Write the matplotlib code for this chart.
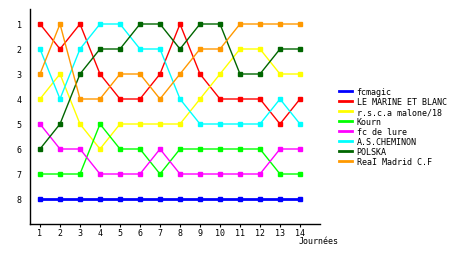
import matplotlib
matplotlib.use('Agg')
import matplotlib.pyplot as plt

journees = list(range(1, 15))

teams = ['fcmagic', 'LE MARINE ET BLANC', 'r.s.c.a malone/18', 'Kourn',
         'fc de lure', 'A.S.CHEMINON', 'POLSKA', 'ReaI Madrid C.F']
colors = ['#0000ff', '#ff0000', '#ffff00', '#00ff00',
          '#ff00ff', '#00ffff', '#006600', '#ff9900']

fcmagic = [8, 8, 8, 8, 8, 8, 8, 8, 8, 8, 8, 8, 8, 8]
marine = [1, 2, 1, 3, 4, 4, 3, 1, 3, 4, 4, 4, 5, 4]
malone = [4, 3, 5, 6, 5, 5, 5, 5, 4, 3, 2, 2, 3, 3]
kourn = [7, 7, 7, 5, 6, 6, 7, 6, 6, 6, 6, 6, 7, 7]
lure = [5, 6, 6, 7, 7, 7, 6, 7, 7, 7, 7, 7, 6, 6]
cheminon = [2, 4, 2, 1, 1, 2, 2, 4, 5, 5, 5, 5, 4, 5]
polska = [6, 5, 3, 2, 2, 1, 1, 2, 1, 1, 3, 3, 2, 2]
madrid = [3, 1, 4, 4, 3, 3, 4, 3, 2, 2, 1, 1, 1, 1]

series = [fcmagic, marine, malone, kourn, lure, cheminon, polska, madrid]

fig = plt.figure(figsize=(4.6, 2.55), dpi=100)
ax = fig.add_axes([30 / 460, 30 / 255, 290 / 460, 215 / 255])

for name, vals, col in zip(teams, series, colors):
    lw = 2 if name == 'fcmagic' else 1
    ax.plot(journees, vals, color=col, lw=lw, marker='s', ms=2.5,
            mec=col, mfc=col, label=name)

ax.set_xlim(0.5, 15)
ax.set_ylim(9, 0.4)
ax.set_xticks(journees)
ax.set_yticks(range(1, 9))
ax.tick_params(axis='x', length=2, labelsize=6, pad=1)
ax.tick_params(axis='y', length=0, labelsize=6, pad=6)
for lab in ax.get_xticklabels() + ax.get_yticklabels():
    lab.set_family('DejaVu Sans Mono')
for s in ['top', 'right']:
    ax.spines[s].set_visible(False)
for s in ['left', 'bottom']:
    ax.spines[s].set_linewidth(1)

fig.text(299 / 460, 1 - 242 / 255, 'Journées', fontsize=6,
         family='DejaVu Sans Mono', va='center', ha='left')

handles, labels = ax.get_legend_handles_labels()
leg = fig.legend(handles, labels, loc='upper left',
                 bbox_to_anchor=(335 / 460, 1 - 84 / 255),
                 frameon=False, handlelength=1.6,
                 handletextpad=0.5, labelspacing=0.12, borderpad=0,
                 prop={'family': 'DejaVu Sans Mono', 'size': 6})
for h in leg.legend_handles:
    h.set_marker('')
    h.set_linewidth(2)

fig.savefig('out.png', dpi=100)
